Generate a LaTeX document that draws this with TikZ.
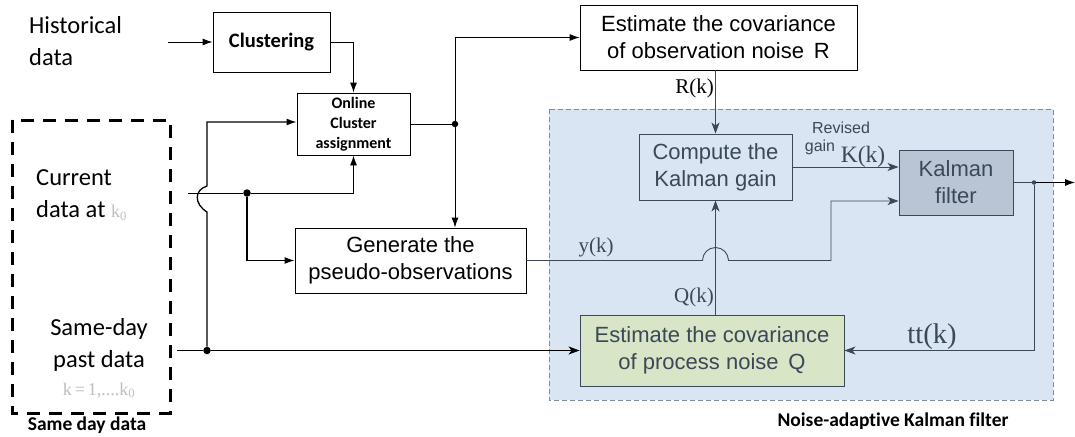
\documentclass[tikz,border=0pt]{standalone}
\usepackage{fontspec}
\setmainfont{Carlito}[Ligatures=NoCommon]
\newfontfamily\arialfont{Liberation Sans}
\newfontfamily\timesfont{Liberation Serif}
\usetikzlibrary{arrows.meta}
\definecolor{regionfill}{HTML}{DAE5F3}
\definecolor{regionline}{HTML}{7F8B98}
\definecolor{slate}{HTML}{3B4857}
\definecolor{kalfill}{HTML}{B9C5D4}
\definecolor{qfill}{HTML}{D8E5C7}
\definecolor{kgrey}{HTML}{BDBDBD}
\begin{document}
\begin{tikzpicture}[x=1pt, y=-1pt,
    box/.style={draw, line width=0.9pt, inner sep=0pt, align=center, font=\arialfont\fontsize{22}{27}\selectfont},
    bbox/.style={draw, line width=0.9pt, inner sep=0pt, align=center},
    inbox/.style={box, draw=slate, text=slate},
    wire/.style={line width=0.9pt, -{Latex[length=10pt,width=7pt]}},
    inwire/.style={line width=0.9pt, draw=slate, -{Stealth[length=11pt,width=8pt,inset=3pt]}},
    dot/.style={circle, fill, inner sep=0pt, minimum size=7.5pt},
    klabel/.style={font=\timesfont\fontsize{21}{21}\selectfont, inner sep=0pt},
    bigtext/.style={font=\fontsize{24.5}{32}\selectfont, inner sep=0pt},
  ]
  \useasboundingbox (0,0) rectangle (1075,436);
  % noise-adaptive part and same-day frame
  \draw[regionline, fill=regionfill, line width=0.9pt, dash pattern=on 5pt off 3pt] (549,109) rectangle (1053,400);
  \draw[line width=3pt, dash pattern=on 13pt off 9pt] (12,120) rectangle (170,413);
  \node[bigtext, anchor=west, align=left] (hist) at (29,41) {Historical\\data};
  \node[bigtext, anchor=west, align=left] (cur) at (36,195) {Current\\data at {\timesfont\fontsize{18}{18}\selectfont\color{kgrey}k\textsubscript{0}}};
  \node[bigtext, align=center] (same) at (99,345) {Same-day\\past data};
  \node[anchor=base, inner sep=0pt, text=kgrey, font=\timesfont\fontsize{18}{18}\selectfont] (kpast) at (99,395) {k\,=\,1,....k\textsubscript{0}};
  \node[inner sep=0pt, font=\bfseries\fontsize{19.5}{20}\selectfont] (samecap) at (87,425) {Same day data};
  \node[inner sep=0pt, font=\bfseries\fontsize{19.5}{20}\selectfont] (nakfcap) at (893,421) {Noise-adaptive Kalman filter};
  % blocks
  \node[bbox, minimum width=117pt, minimum height=60pt, font=\bfseries\fontsize{20.5}{24}\selectfont] (clus) at (271.5,42) {Clustering};
  \node[bbox, minimum width=113pt, minimum height=62pt, font=\bfseries\fontsize{16}{20}\selectfont] (online) at (353.5,124) {Online\\Cluster\\assignment};
  \node[box, minimum width=277pt, minimum height=65pt] (estR) at (718.5,37.5) {Estimate the covariance\\of observation noise \,R};
  \node[box, minimum width=231pt, minimum height=65pt] (gen) at (410.5,260.5) {Generate the\\pseudo-observations};
  \node[inbox, fill=regionfill, minimum width=153pt, minimum height=66pt] (comp) at (715.5,167) {Compute the\\Kalman gain};
  \node[inbox, fill=kalfill, minimum width=114pt, minimum height=65pt] (kal) at (956,182.5) {Kalman\\filter};
  \node[inbox, fill=qfill, minimum width=264pt, minimum height=71pt] (estQ) at (712,350.5) {Estimate the covariance\\of process noise \,Q};
  % junctions and free ends
  \coordinate (histout) at (168,42);
  \coordinate (curin) at (188,193);
  \coordinate (samein) at (177,350.5);
  \coordinate (out) at (1075,182.5);
  \node[dot, minimum size=6.5pt] (d1) at (455,124) {};
  \node[dot] (dc) at (247,193) {};
  \node[dot] (ds) at (207,350.5) {};
  \node[dot, slate, minimum size=4.5pt] (dk) at (1034,182.5) {};
  % connectors
  \draw[wire] (histout) -- (clus.west);
  \draw[wire] (clus.east) -| (online.north);
  \draw[line width=0.9pt] (online.east) -- (d1);
  \draw[wire] (d1) |- (estR.west);
  \draw[wire] (d1) -- (d1 |- gen.north);
  \draw[wire] (curin) -- (dc) -| (online.south);
  \draw[wire, line width=1.3pt] (dc) |- (gen.west);
  \draw[line width=0.9pt, -{Stealth[length=11pt,width=8pt,inset=3pt]}] (samein) -- (ds) -- (estQ.west);
  \draw[wire, line width=1.3pt] (ds) -- (207,212) .. controls (194,204) and (194,190) .. (207,186) |- ([yshift=2pt]online.west);
  \draw[inwire] (gen.east) -- (702.5,260.5) arc[start angle=180, end angle=0, radius=13pt] -- (831,260.5) |- ([yshift=-18.5pt]kal.west);
  \draw[inwire] (estR.south -| comp.north) -- (comp.north);
  \draw[inwire] (comp.south |- estQ.north) -- (comp.south);
  \draw[inwire] (comp.east) -- (comp.east -| kal.west);
  \draw[line width=0.9pt, slate] (kal.east) -- (dk);
  \draw[wire] (dk) -- (out);
  \draw[inwire] (dk) |- (estQ.east);
  % labels
  \node[klabel, anchor=east] (rk) at (714,88) {R(k)};
  \node[klabel, text=slate] (yk) at (596,247) {y(k)};
  \node[klabel, text=slate, anchor=east] (qk) at (714,297) {Q(k)};
  \node[klabel, text=slate, font=\timesfont\fontsize{23.5}{24}\selectfont] (kk) at (863,157) {K(k)};
  \node[klabel, text=slate, font=\timesfont\fontsize{28.5}{29}\selectfont] (ttk) at (932,337) {tt(k)};
  \node[inner sep=0pt, text=slate, font=\arialfont\fontsize{16}{16}\selectfont] (rev) at (841,128) {Revised};
  \node[inner sep=0pt, text=slate, font=\arialfont\fontsize{16}{16}\selectfont] (gain) at (820,147) {gain};
\end{tikzpicture}
\end{document}
